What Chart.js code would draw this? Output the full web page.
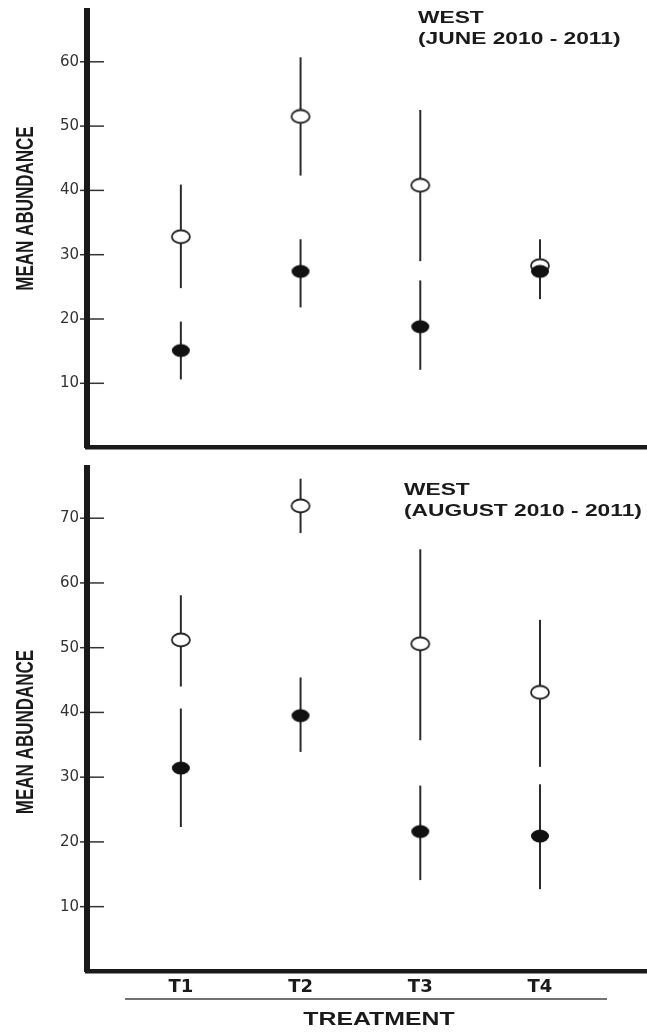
<!DOCTYPE html>
<html>
<head>
<meta charset="utf-8">
<script src="https://cdn.jsdelivr.net/npm/chart.js@4.4.0/dist/chart.umd.min.js"></script>
<style>
  html, body { margin: 0; padding: 0; background: #fff; }
  canvas { display: block; }
</style>
</head>
<body>
<canvas id="juneChart" width="647" height="455"></canvas>
<canvas id="augChart" width="647" height="577"></canvas>
<script>
const treatments = ['T1', 'T2', 'T3', 'T4'];

// WEST, June 2010 - 2011
const juneOpenMean = [32.8, 51.5, 40.8, 28.3];
const juneOpenLow = [24.8, 42.3, 29.0, 27.0];
const juneOpenHigh = [40.9, 60.7, 52.5, 32.4];
const juneFilledMean = [15.1, 27.4, 18.8, 27.4];
const juneFilledLow = [10.6, 21.8, 12.1, 23.1];
const juneFilledHigh = [19.6, 32.4, 26.0, 29.0];
const juneTicks = [10, 20, 30, 40, 50, 60];

// WEST, August 2010 - 2011
const augOpenMean = [51.2, 71.9, 50.6, 43.1];
const augOpenLow = [44.0, 67.7, 35.7, 31.6];
const augOpenHigh = [58.1, 76.1, 65.2, 54.3];
const augFilledMean = [31.4, 39.5, 21.6, 20.9];
const augFilledLow = [22.3, 33.9, 14.1, 12.7];
const augFilledHigh = [40.6, 45.4, 28.7, 28.9];
const augTicks = [10, 20, 30, 40, 50, 60, 70];

const INK = '#1a1a1a';
const STRETCH = 1.38; // the printed figure is a bit wider than tall

// elliptic markers
function makeMarker(fill, stroke) {
  const c = document.createElement('canvas');
  c.width = 22;
  c.height = 16;
  const ctx = c.getContext('2d');
  ctx.beginPath();
  ctx.ellipse(11, 8, 9, 6.5, 0, 0, Math.PI * 2);
  ctx.fillStyle = fill;
  ctx.fill();
  if (stroke) {
    ctx.lineWidth = 1.8;
    ctx.strokeStyle = stroke;
    ctx.stroke();
  }
  return c;
}
const openMarker = makeMarker('#ffffff', '#222');
const filledMarker = makeMarker('#111', null);

function boldText(ctx, text, x, y, size, align, vertical) {
  ctx.save();
  ctx.font = 'bold ' + size + 'px "Liberation Sans", Arial, sans-serif';
  ctx.fillStyle = INK;
  ctx.translate(x, y);
  if (vertical) {
    ctx.rotate(-Math.PI / 2);
    ctx.scale(1, STRETCH);
    ctx.textBaseline = 'middle';
  } else {
    ctx.scale(STRETCH, 1);
    ctx.textBaseline = 'alphabetic';
  }
  ctx.textAlign = align;
  ctx.fillText(text, 0, 0);
  ctx.restore();
}

// tick marks crossing the y axis
const tickMarks = {
  id: 'tickMarks',
  beforeDraw(chart) {
    const { ctx, chartArea, scales } = chart;
    ctx.save();
    ctx.strokeStyle = '#333';
    ctx.lineWidth = 1.5;
    scales.y.ticks.forEach(t => {
      const py = scales.y.getPixelForValue(t.value);
      ctx.beginPath();
      ctx.moveTo(chartArea.left - 7, py);
      ctx.lineTo(chartArea.left + 17, py);
      ctx.stroke();
    });
    ctx.restore();
  }
};

// vertical error bars under the markers
const errorBars = {
  id: 'errorBars',
  beforeDatasetsDraw(chart, args, opts) {
    const { ctx, scales } = chart;
    ctx.save();
    ctx.strokeStyle = '#2b2b2b';
    ctx.lineWidth = 2;
    opts.bars.forEach(b => {
      b.low.forEach((lo, i) => {
        const px = scales.x.getPixelForValue(i + 1);
        ctx.beginPath();
        ctx.moveTo(px, scales.y.getPixelForValue(lo));
        ctx.lineTo(px, scales.y.getPixelForValue(b.high[i]));
        ctx.stroke();
      });
    });
    ctx.restore();
  }
};

const labels = {
  id: 'labels',
  afterDraw(chart, args, opts) {
    const ctx = chart.ctx;
    boldText(ctx, 'MEAN ABUNDANCE', 27, opts.yLabelAt, 17, 'center', true);
    boldText(ctx, 'WEST', opts.titleX, opts.titleY, 16.5, 'left');
    boldText(ctx, opts.period, opts.titleX, opts.titleY + 20.5, 16.5, 'left');
    if (opts.treatment) {
      ctx.save();
      ctx.strokeStyle = '#444';
      ctx.lineWidth = 1.5;
      ctx.beginPath();
      ctx.moveTo(125, 544);
      ctx.lineTo(607, 544);
      ctx.stroke();
      ctx.restore();
      boldText(ctx, 'TREATMENT', 379, 570, 18, 'center');
    }
  }
};

function makePanel(id, cfg) {
  const toPoints = arr => arr.map((v, i) => ({ x: i + 1, y: v }));
  return new Chart(document.getElementById(id), {
    type: 'scatter',
    data: {
      datasets: [
        {
          data: toPoints(cfg.filledMean),
          pointStyle: filledMarker,
          pointRadius: 8,
          clip: false,
        },
        {
          data: toPoints(cfg.openMean),
          pointStyle: openMarker,
          pointRadius: 8,
          clip: false,
        },
      ],
    },
    plugins: [tickMarks, errorBars, labels],
    options: {
      responsive: false,
      animation: false,
      events: [],
      layout: { autoPadding: false, padding: { top: cfg.top, left: 0, right: 0, bottom: 0 } },
      plugins: {
        legend: { display: false },
        tooltip: { enabled: false },
        errorBars: {
          bars: [
            { low: cfg.openLow, high: cfg.openHigh },
            { low: cfg.filledLow, high: cfg.filledHigh },
          ],
        },
        labels: cfg.labels,
      },
      scales: {
        x: {
          type: 'linear',
          min: 0.216,
          max: 4.894,
          afterBuildTicks: s => { s.ticks = treatments.map((t, i) => ({ value: i + 1 })); },
          afterFit: s => {
            s.height = cfg.xHeight;
            s.paddingLeft = 0;
            s.paddingRight = 0;
          },
          grid: { drawOnChartArea: false, drawTicks: false },
          border: { display: true, width: 4.5, color: INK },
          ticks: {
            display: cfg.showX,
            padding: 5,
            color: INK,
            font: { family: '"DejaVu Sans", sans-serif', size: 18, weight: 'bold' },
            callback: v => treatments[v - 1],
          },
        },
        y: {
          min: 0,
          max: cfg.yMax,
          afterBuildTicks: s => { s.ticks = cfg.ticks.map(v => ({ value: v })); },
          afterFit: s => {
            s.width = 87;
            s.paddingTop = 0;
            s.paddingBottom = 0;
          },
          grid: { drawOnChartArea: false, drawTicks: false },
          border: { display: true, width: 6, color: INK },
          ticks: {
            padding: 8,
            color: '#333',
            font: { family: '"DejaVu Sans", sans-serif', size: 15 },
          },
        },
      },
    },
  });
}

makePanel('juneChart', {
  openMean: juneOpenMean, openLow: juneOpenLow, openHigh: juneOpenHigh,
  filledMean: juneFilledMean, filledLow: juneFilledLow, filledHigh: juneFilledHigh,
  ticks: juneTicks,
  yMax: 67.9,
  top: 11,
  xHeight: 7.4,
  showX: false,
  labels: { yLabelAt: 208.5, titleX: 418, titleY: 23, period: '(JUNE 2010 - 2011)', treatment: false },
});

makePanel('augChart', {
  openMean: augOpenMean, openLow: augOpenLow, openHigh: augOpenHigh,
  filledMean: augFilledMean, filledLow: augFilledLow, filledHigh: augFilledHigh,
  ticks: augTicks,
  yMax: 77.8,
  top: 12.7,
  xHeight: 60.6,
  showX: true,
  labels: { yLabelAt: 277, titleX: 404, titleY: 40, period: '(AUGUST 2010 - 2011)', treatment: true },
});
</script>
</body>
</html>
